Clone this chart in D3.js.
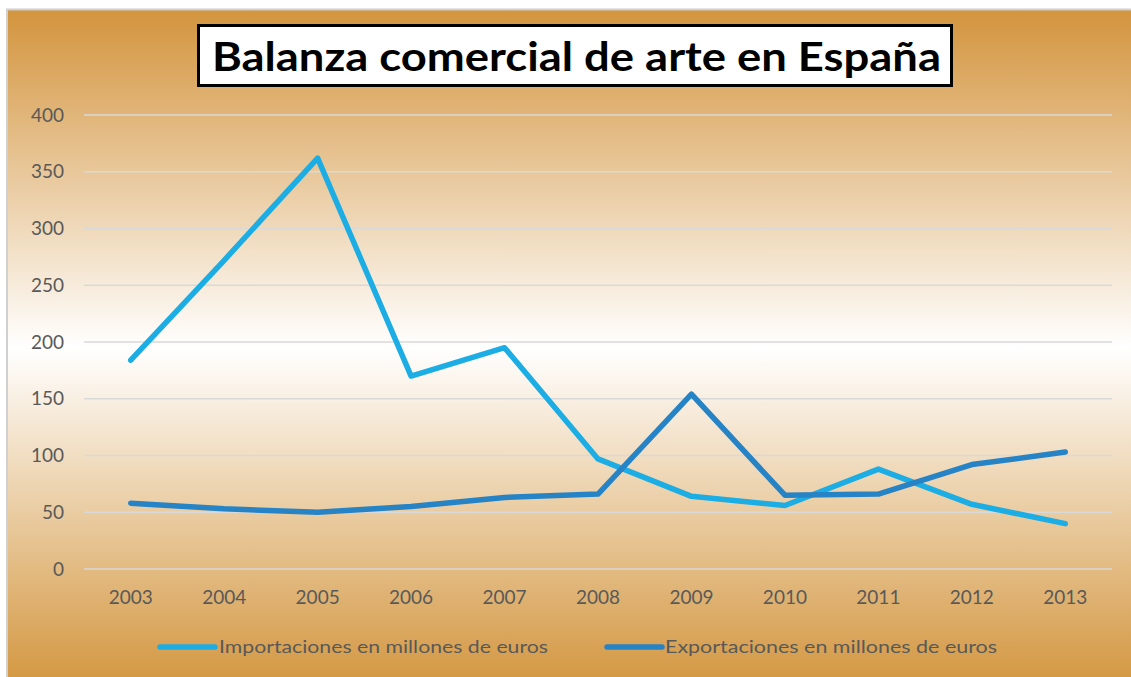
<!DOCTYPE html>
<html>
<head>
<meta charset="utf-8">
<script src="https://cdn.jsdelivr.net/npm/d3@7"></script>
<style>
  html, body { margin: 0; padding: 0; background: #ffffff; }
  svg { display: block; }
</style>
</head>
<body>
<svg id="chart" width="1131" height="677"></svg>
<script>
const title = "Balanza comercial de arte en España";
const years = ["2003","2004","2005","2006","2007","2008","2009","2010","2011","2012","2013"];
const importaciones = [184, 272, 362, 170, 195, 97, 64, 56, 88, 57, 40];
const exportaciones = [58, 53, 50, 55, 63, 66, 154, 65, 66, 92, 103];
const yTicks = [0, 50, 100, 150, 200, 250, 300, 350, 400];
const seriesNames = ["Importaciones en millones de euros", "Exportaciones en millones de euros"];
const seriesColors = ["#1CADE4", "#2683C6"];

const W = 1131, H = 677;
const font = "'Century Gothic', 'Lato', 'Open Sans', sans-serif";
const svg = d3.select("#chart");

// background gradient
const defs = svg.append("defs");
const grad = defs.append("linearGradient").attr("id", "bg").attr("x1", 0).attr("y1", 0).attr("x2", 0).attr("y2", 1);
grad.append("stop").attr("offset", "0%").attr("stop-color", "#D3943D");
grad.append("stop").attr("offset", "50%").attr("stop-color", "#FFFFFF");
grad.append("stop").attr("offset", "100%").attr("stop-color", "#D3963F");

svg.append("rect").attr("x", 7).attr("y", 9.5).attr("width", W).attr("height", H)
  .attr("fill", "url(#bg)").attr("stroke", "#D0D0D0").attr("stroke-width", 2);

// scales
const x = d3.scaleBand().domain(years).range([84, 1112]);
const y = d3.scaleLinear().domain([0, 400]).range([569, 115]);

// gridlines
svg.append("g").selectAll("line").data(yTicks).join("line")
  .attr("x1", 84).attr("x2", 1112)
  .attr("y1", d => y(d)).attr("y2", d => y(d))
  .attr("stroke", "#D9D9D9").attr("stroke-width", 1.5);

// y axis
const yAxis = svg.append("g").attr("transform", "translate(64,0)")
  .call(d3.axisLeft(y).tickValues(yTicks).tickSize(0).tickPadding(0));
yAxis.select(".domain").remove();
yAxis.selectAll("text").attr("font-family", font).attr("font-size", 19).attr("fill", "#595959");

// x axis
const xAxis = svg.append("g").attr("transform", "translate(0,569)")
  .call(d3.axisBottom(x).tickSize(0).tickPadding(22));
xAxis.select(".domain").remove();
xAxis.selectAll("text").attr("font-family", font).attr("font-size", 19).attr("fill", "#595959");

// lines
const line = d3.line().x((d, i) => x(years[i]) + x.bandwidth() / 2).y(d => y(d));
[importaciones, exportaciones].forEach((s, k) => {
  svg.append("path").datum(s).attr("d", line)
    .attr("fill", "none").attr("stroke", seriesColors[k]).attr("stroke-width", 5.5)
    .attr("stroke-linecap", "round").attr("stroke-linejoin", "round");
});

// legend
const legendItems = [
  {x1: 160, x2: 215, tx: 219, tw: 329},
  {x1: 607, x2: 662, tx: 665, tw: 332}
];
legendItems.forEach((l, k) => {
  svg.append("line").attr("x1", l.x1).attr("x2", l.x2).attr("y1", 647).attr("y2", 647)
    .attr("stroke", seriesColors[k]).attr("stroke-width", 5.5).attr("stroke-linecap", "round");
  svg.append("text").attr("x", l.tx).attr("y", 653).text(seriesNames[k])
    .attr("font-family", font).attr("font-size", 18).attr("fill", "#595959")
    .attr("textLength", l.tw).attr("lengthAdjust", "spacingAndGlyphs");
});

// title box
svg.append("rect").attr("x", 198.5).attr("y", 25.5).attr("width", 753).attr("height", 60)
  .attr("fill", "#FFFFFF").attr("stroke", "#000000").attr("stroke-width", 3);
svg.append("text").attr("x", 212).attr("y", 71).text(title)
  .attr("font-family", font).attr("font-weight", "bold").attr("font-size", 41).attr("fill", "#000000")
  .attr("textLength", 729).attr("lengthAdjust", "spacingAndGlyphs");
</script>
</body>
</html>
